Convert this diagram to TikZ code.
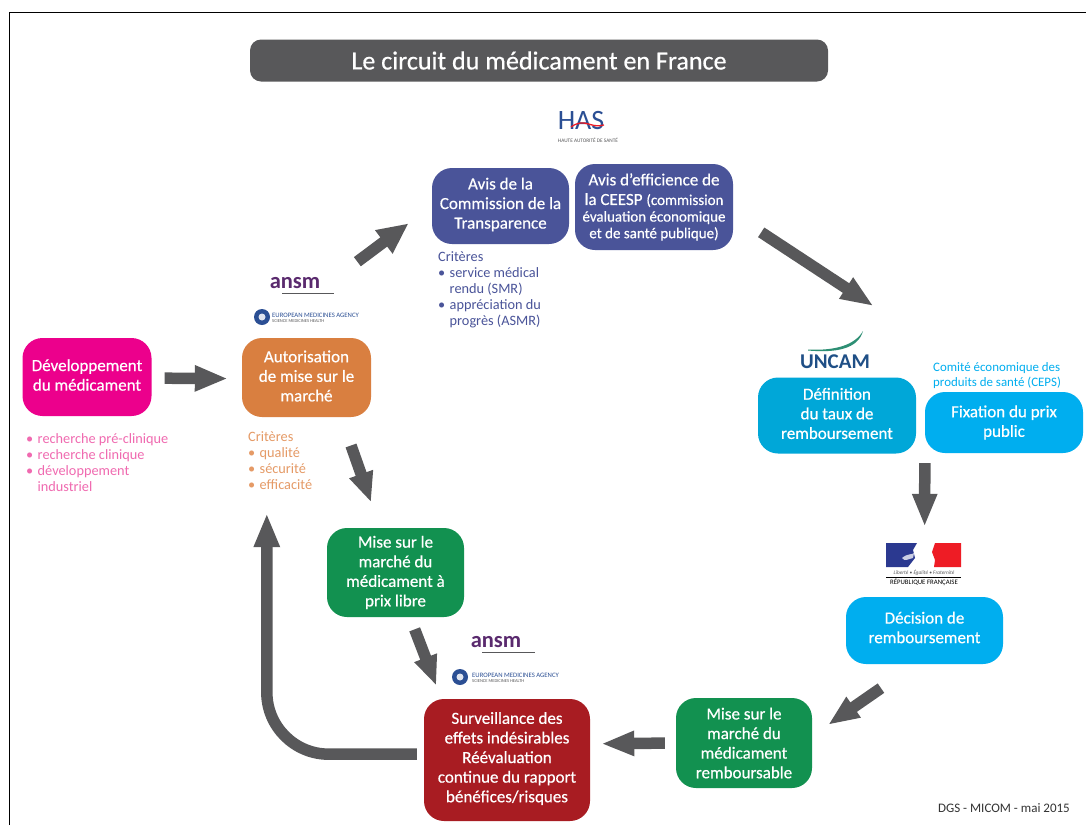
\documentclass[tikz,border=0pt]{standalone}
\usepackage{fontspec}
\setmainfont{Carlito}
\newfontfamily\fatfont[FakeBold=0.5]{Carlito}
\usetikzlibrary{arrows.meta}
\definecolor{cgrey}{HTML}{58585A}
\definecolor{cpink}{HTML}{EC008C}
\definecolor{cpinkt}{HTML}{F06AB0}
\definecolor{corange}{HTML}{D97F40}
\definecolor{coranget}{HTML}{E59A66}
\definecolor{cnavy}{HTML}{4A5499}
\definecolor{ccyana}{HTML}{00A7D8}
\definecolor{ccyanb}{HTML}{00AEEF}
\definecolor{cgreen}{HTML}{129150}
\definecolor{cred}{HTML}{A81C22}
\definecolor{cpurple}{HTML}{5A2A6E}
\definecolor{cema}{HTML}{2B4F94}
\definecolor{cuncam}{HTML}{1F4F86}
\definecolor{cswoosh}{HTML}{2E8F74}
\definecolor{cfrred}{HTML}{EE1C25}
\definecolor{cfrblue}{HTML}{2B3990}
\newcommand{\fs}[2]{\fontsize{#1}{#2}\selectfont}
\newcommand{\bul}{\makebox[11.5pt][l]{\textbullet}}
\newcommand{\cnt}{\hspace*{11.5pt}}
\newcommand{\lift}[1]{\par\vspace{#1}}
\tikzset{
  x=1pt,y=-1pt,
  box/.style={rounded corners=20pt,text=white,align=center,inner sep=0pt,font=\fatfont\fs{17}{19.6}},
  blk/.style={draw=cgrey,line width=11.5pt,-{Triangle[length=33pt,width=23pt]}},
  note/.style={anchor=north west,align=left,inner sep=0pt,font=\fs{14.3}{16.2}},
}
\begin{document}
\begin{tikzpicture}
\useasboundingbox (0,0) rectangle (1086,825);
\fill[white] (0,0) rectangle (1086,825);
\draw[line width=1pt,black] (9,825) -- (9,12) -- (1086,12);
% title
\node[fill=cgrey,rounded corners=11pt,minimum width=578pt,minimum height=42pt,inner sep=0pt,text=white,font=\fatfont\fs{26}{30}] (title) at (539,60.5) {\raisebox{-1pt}{Le circuit du médicament en France}};
% boxes
\node[box,fill=cpink,minimum width=129pt,minimum height=78pt] (dev) at (87,377) {Développement\\du médicament\lift{4pt}};
\node[box,fill=corange,minimum width=129pt,minimum height=79pt] (amm) at (306.5,377.5) {Autorisation\\de mise sur le\\marché\lift{3pt}};
\node[box,fill=cnavy,minimum width=137pt,minimum height=76pt] (ct) at (500.5,206) {Avis de la\\Commission de la\\Transparence\lift{3pt}};
\node[box,fill=cnavy,minimum width=158pt,minimum height=86pt] (ceesp) at (654,207) {\vspace*{11pt}Avis d’efficience de\\la CEESP {\fs{15}{18}(commission}\\[-3pt]{\fs{15}{18}évaluation économique}\\[-3pt]{\fs{15}{18}et de santé publique)}};
\node[box,fill=ccyana,minimum width=158pt,minimum height=76pt] (def) at (837,415.5) {Définition\\du taux de\\remboursement\lift{4pt}};
\node[box,fill=ccyanb,minimum width=158pt,minimum height=61pt] (fix) at (1004,422.5) {Fixation du prix\\public};
\node[box,fill=ccyanb,minimum width=157pt,minimum height=67pt] (dec) at (924.5,630.5) {Décision de\\remboursement\lift{6pt}};
\node[box,fill=cgreen,minimum width=136pt,minimum height=90pt] (remb) at (744,743) {Mise sur le\\marché du\\médicament\\remboursable};
\node[box,fill=cgreen,minimum width=137pt,minimum height=89pt] (libre) at (395.5,572.5) {Mise sur le\\marché du\\médicament à\\prix libre};
\node[box,fill=cred,minimum width=166pt,minimum height=122pt] (surv) at (507,760) {Surveillance des\\effets indésirables\\Réévaluation\\continue du rapport\\bénéfices/risques\lift{3pt}};
% notes
\node[note,text=cpinkt] (ndev) at (26,433) {\bul recherche pré-clinique\\\bul recherche clinique\\\bul développement\\\cnt industriel};
\node[note,text=coranget] (namm) at (248,431) {Critères\\\bul qualité\\\bul sécurité\\\bul efficacité};
\node[note,text=cnavy] (nct) at (438,251) {Critères\\\bul service médical\\\cnt rendu (SMR)\\\bul appréciation du\\\cnt progrès (ASMR)};
\node[note,text=ccyanb,font=\fs{12.9}{15.2}] (nceps) at (933,362) {Comité économique des\\produits de santé (CEPS)};
\node[anchor=east,inner sep=0pt,text=black!80,font=\fs{13}{15}] (dgs) at (1070,808) {DGS - MICOM - mai 2015};
% HAS logo
\node[inner sep=0pt,text=cema,font=\fs{28}{28}] (has) at (581,121) {HAS};
\draw[cfrred,line width=1.3pt] (571,127) .. controls (585,117) and (590,129) .. (604,125);
\node[inner sep=0pt,text=cgrey,font=\fs{5.3}{6}] (hast) at (588,140) {HAUTE AUTORITÉ DE SANTÉ};
% ANSM logos
\node[inner sep=0pt,text=cpurple,font=\bfseries\fs{22.5}{22}] (ansma) at (295,283.5) {ansm};
\draw[cgrey,line width=.5pt] (282,293) -- (334,293);
\node[inner sep=0pt,text=cpurple,font=\bfseries\fs{22.5}{22}] (ansmb) at (496,642) {ansm};
\draw[cgrey,line width=.5pt] (482,652) -- (535,652);
% EMA logos
\fill[cema] (262,317) circle (8pt);
\fill[white!85!cema] (262,317) circle (3.5pt);
\node[anchor=west,inner sep=0pt,text=cema,font=\fs{6.7}{8}] (emaa) at (272,315.5) {EUROPEAN MEDICINES AGENCY};
\node[anchor=west,inner sep=0pt,text=cgrey,font=\fs{4.5}{5}] (emaat) at (272,321.5) {SCIENCE MEDICINES HEALTH};
\fill[cema] (460,677) circle (8pt);
\fill[white!85!cema] (460,677) circle (3.5pt);
\node[anchor=west,inner sep=0pt,text=cema,font=\fs{6.7}{8}] (emab) at (472,675.5) {EUROPEAN MEDICINES AGENCY};
\node[anchor=west,inner sep=0pt,text=cgrey,font=\fs{4.5}{5}] (emabt) at (472,681.5) {SCIENCE MEDICINES HEALTH};
% UNCAM logo
\node[inner sep=0pt,text=cuncam,font=\bfseries\fs{21}{21}] (uncam) at (835,362) {UNCAM};
\fill[cswoosh] (808,349.5) .. controls (835,351) and (855,345) .. (863,331) .. controls (858,349) and (836,353) .. (808,350.5) -- cycle;
% Marianne logo
\fill[cfrblue] (886,543) -- (917,543) -- (913,550) -- (915,558) -- (908,567) -- (886,567) -- cycle;
\fill[white!75!cfrblue] (902,558) .. controls (908,553) and (912,555) .. (914,553) -- (913,558) .. controls (908,559) and (905,562) .. (902,558) -- cycle;
\fill[cfrred] (961,543) -- (935,543) -- (932,552) -- (935,560) -- (934,567) -- (961,567) -- cycle;
\node[inner sep=0pt,text=cgrey,font=\itshape\fs{5.3}{6}] (rfa) at (924,573) {Liberté • Égalité • Fraternité};
\draw[black,line width=.5pt] (886,577) -- (961,577);
\node[inner sep=0pt,text=black,font=\fs{6.8}{7}] (rfb) at (924,582) {RÉPUBLIQUE FRANÇAISE};
% arrows
\draw[blk,-{Triangle[length=33pt,width=24pt]},shorten <=13pt,shorten >=14pt] (dev.-1.8) -- (amm.181.3);
\draw[blk,-{Triangle[length=31pt,width=27pt]},shorten <=127pt,shorten >=29pt] (amm.142) -- (ct.west);
\draw[blk,shorten <=33.5pt,shorten >=156pt] (ceesp.-5) -- (fix.north);
\draw[blk,shorten <=10pt,shorten >=70pt] (fix.south west) -- (dec.north);
\draw[blk,-{Triangle[length=31pt,width=23pt]},shorten <=42pt,shorten >=19.4pt] (dec.-105.8) -- (remb.6.7);
\draw[blk,shorten <=11pt,shorten >=11pt] (remb.west) -- (surv.11.6);
\draw[blk,-{Triangle[length=30pt,width=23pt]},shorten <=30pt,shorten >=27pt] (amm.-49.7) -- (libre.109.2);
\draw[blk,-{Triangle[length=30pt,width=22pt]},shorten <=13pt,shorten >=14pt] (libre.-72.5) -- (surv.137.7);
\draw[blk,-{Triangle[length=34pt,width=24pt]},rounded corners=62pt,shorten <=7pt,shorten >=96pt] (surv.176) -| (amm.225);
\end{tikzpicture}
\end{document}
